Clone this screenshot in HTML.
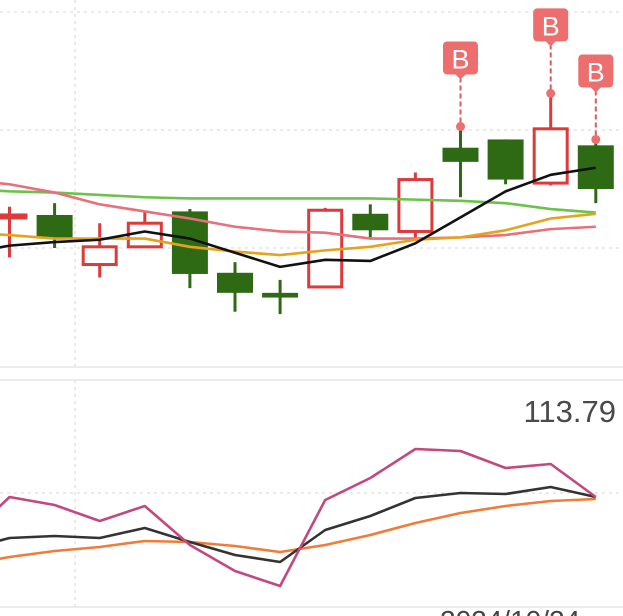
<!DOCTYPE html>
<html><head><meta charset="utf-8"><style>
html,body{margin:0;padding:0;background:#fff;width:623px;height:616px;overflow:hidden;font-family:"Liberation Sans",sans-serif}
</style></head><body>
<svg id="c" width="623" height="616" viewBox="0 0 623 616" xmlns="http://www.w3.org/2000/svg"></svg>
<script>
// price pane data (index 0..13), MA arrays have a leading value at index -1
const categories=[0,1,2,3,4,5,6,7,8,9,10,11,12,13];
const opens =[102.7,102.8,98.6,100.1,103.1,97.9,96.2,96.7,102.9,101.4,108.5,109.2,105.5,108.7];
const closes=[102.8,100.8,100.1,102.1,97.8,96.2,95.8,103.2,101.5,105.8,107.3,105.8,110.1,105.0];
const highs =[103.5,103.8,102.1,103.1,103.3,98.8,97.3,103.4,103.7,106.4,110.3,109.2,113.1,109.2];
const lows  =[99.2,100.0,97.5,100.0,96.6,94.6,94.4,96.7,100.9,100.8,104.3,105.4,105.3,103.8];
const maBlack =[99.5,100.2,100.5,100.7,101.4,100.8,99.6,98.4,99.0,98.9,100.4,102.6,104.8,106.2,106.8];
const maOrange=[101.3,101.1,100.8,100.8,100.8,100.1,99.7,99.4,99.8,100.1,100.7,100.9,101.5,102.5,102.9];
const maPink  =[105.8,105.4,104.7,103.7,103.1,102.5,101.8,101.4,101.3,100.8,100.8,100.9,101.1,101.6,101.8];
const maGreen =[105.0,104.8,104.7,104.5,104.3,104.2,104.2,104.2,104.2,104.2,104.1,104.0,103.8,103.3,103.0];
const buySignals=[10,12,13];
// indicator pane (leading value at index -1)
const indPink  =[80,123,115,99,114,75,49,34,120,142,171,169,152,156,123];
const indBlack =[70,82,84,82,92,78,65,58,90,104,122,127,126,133,123];
const indOrange=[55,63,69,73,79,78,74,68,75,85,97,107,114,119,121];
const indLabel="113.79";
const dateLabel="2024/10/24";

const svg=document.getElementById('c');
const NS='http://www.w3.org/2000/svg';
function mk(tag,attrs,parent){const e=document.createElementNS(NS,tag);for(const k in attrs)e.setAttribute(k,attrs[k]);(parent||svg).appendChild(e);return e;}
const xs=i=>9.5+45.1*i;
const py=p=>248-(p-100)*11.8;
const iy=v=>620-v;

// grid
[12,130,248].forEach(y=>{const l=mk('line',{x1:0,x2:623,y1:y,y2:y,stroke:'#d6d6d6','stroke-dasharray':'3,4'});

});
let v=mk('line',{x1:75,x2:75,y1:0,y2:366,stroke:'#d6d6d6','stroke-dasharray':'3,4'});


let s1=mk('line',{x1:0,x2:623,y1:367,y2:367,stroke:'#e6e6e6','stroke-width':1.5});


let s2=mk('line',{x1:0,x2:623,y1:380,y2:380,stroke:'#e6e6e6','stroke-width':1.5});


let s3=mk('line',{x1:0,x2:623,y1:607,y2:607,stroke:'#e6e6e6','stroke-width':1.5});


let g2=mk('line',{x1:0,x2:623,y1:493,y2:493,stroke:'#d6d6d6','stroke-dasharray':'3,4'});


let v2=mk('line',{x1:75,x2:75,y1:380,y2:607,stroke:'#d6d6d6','stroke-dasharray':'3,4'});



// candles
categories.forEach(i=>{
 const up=closes[i]>=opens[i];const col=up?'#dd3a3c':'#2e6a14';const x=xs(i);
 const g=mk('g',{});
 
 
 mk('line',{x1:x,x2:x,y1:py(highs[i]),y2:py(lows[i]),stroke:col,'stroke-width':3},g);
 const t=py(Math.max(opens[i],closes[i])),b=py(Math.min(opens[i],closes[i]));
 const h=Math.max(b-t,3);
 if(up) mk('rect',{x:x-16.5,y:t,width:33,height:h,fill:'#fff',stroke:col,'stroke-width':3},g);
 else mk('rect',{x:x-18,y:t,width:36,height:h,fill:col},g);
});

function line(arr,yf,col,w,name){
 const pts=arr.map((v,k)=>xs(k-1)+','+yf(v)).join(' ');
 const p=mk('polyline',{points:pts,fill:'none',stroke:col,'stroke-width':w,'stroke-linejoin':'round'});
 
 
}
line(maGreen,py,'#6cc24a',2.6,'ma-green-line');
line(maPink,py,'#e6707c',2.6,'ma-pink-line');
line(maOrange,py,'#e5a31c',2.6,'ma-orange-line');
line(maBlack,py,'#111',2.6,'ma-black-line');

// buy markers
buySignals.forEach(i=>{
 const x=xs(i),hy=py(highs[i]),top=hy-85;
 const g=mk('g',{});
 
 
 mk('line',{x1:x,x2:x,y1:top+36,y2:hy,stroke:'#e05a5e','stroke-width':2,'stroke-dasharray':'5,3'},g);
 mk('circle',{cx:x,cy:hy,r:4.5,fill:'#ec6e6e'},g);
 mk('rect',{x:x-17.5,y:top,width:35,height:33,rx:4,fill:'#ec6e6e'},g);
 mk('polygon',{points:(x-5)+','+(top+33)+' '+(x+5)+','+(top+33)+' '+x+','+(top+38),fill:'#ec6e6e'},g);
 const t=mk('text',{x:x,y:top+27,'text-anchor':'middle','font-size':27,fill:'#fff','font-family':'Liberation Sans, sans-serif'},g);
 t.textContent='B';
});

// indicator
line(indOrange,iy,'#f07c3a',2.6,'indicator-orange-line');
line(indBlack,iy,'#333',2.6,'indicator-black-line');
line(indPink,iy,'#c2487f',2.6,'indicator-pink-line');
let lt=mk('text',{x:616,y:422,'text-anchor':'end','font-size':31,fill:'#4a4a4a'});


lt.textContent=indLabel;
let dt=mk('text',{x:440,y:630,'font-size':28,fill:'#444'});


dt.textContent=dateLabel;
</script>
</body></html>
